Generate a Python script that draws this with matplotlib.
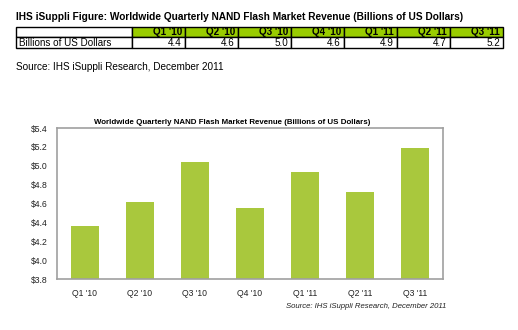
import matplotlib.pyplot as plt
import numpy as np

plt.rcParams['font.family'] = ['Liberation Sans', 'DejaVu Sans']

quarters = ["Q1 '10", "Q2 '10", "Q3 '10", "Q4 '10", "Q1 '11", "Q2 '11", "Q3 '11"]
table_values = [4.4, 4.6, 5.0, 4.6, 4.9, 4.7, 5.2]
bar_values = [4.36, 4.62, 5.04, 4.55, 4.93, 4.72, 5.19]
yticks = [3.8, 4.0, 4.2, 4.4, 4.6, 4.8, 5.0, 5.2, 5.4]

W, H = 518, 330
fig = plt.figure(figsize=(W / 100, H / 100), dpi=100, facecolor='white')

# page-level axes in pixel coordinates for the table and captions
page = fig.add_axes([0, 0, 1, 1])
page.set_xlim(0, W)
page.set_ylim(H, 0)
page.axis('off')

page.text(16, 17, "IHS iSuppli Figure: Worldwide Quarterly NAND Flash Market Revenue (Billions of US Dollars)",
          fontsize=7.3, fontweight='bold', va='center', ha='left')

# table
col_w = [116] + [53] * len(quarters)
row_h = [10.5, 11]
tx0, ty0 = 16, 26.5
cells = [[""] + quarters, ["Billions of US Dollars"] + [f"{v:.1f}" for v in table_values]]
y = ty0
for r, row in enumerate(cells):
    x = tx0
    for c, txt in enumerate(row):
        fc = '#99cc00' if (r == 0 and c > 0) else 'white'
        page.add_patch(plt.Rectangle((x, y), col_w[c], row_h[r],
                                     facecolor=fc, edgecolor='black', lw=1.0))
        if c == 0:
            page.text(x + 3, y + row_h[r] / 2 + 0.7, txt, fontsize=7.1, va='center', ha='left')
        else:
            page.text(x + col_w[c] - 3, y + row_h[r] / 2 + 0.7, txt, fontsize=7.1,
                      va='center', ha='right', fontweight='bold' if r == 0 else 'normal')
        x += col_w[c]
    y += row_h[r]

page.text(16, 67, "Source: IHS iSuppli Research, December 2011", fontsize=7.2, va='center', ha='left')

# chart
left, right, top, bottom = 57, 443, 128, 279
ax = fig.add_axes([left / W, 1 - bottom / H, (right - left) / W, (bottom - top) / H])
x = np.arange(len(quarters))
ax.bar(x, np.array(bar_values) - 3.8, bottom=3.8, width=0.51, color='#a9c83d', zorder=2)
ax.set_xlim(-0.5, len(quarters) - 0.5)
ax.set_ylim(3.8, 5.4)
ax.set_yticks(yticks)
ax.set_yticklabels([f"${v:.1f}" for v in yticks], fontsize=6.2, color='#222222')
ax.set_xticks(x)
ax.set_xticklabels(quarters, fontsize=6.2, color='#222222')
ax.tick_params(length=0, pad=7)
ax.tick_params(axis='x', pad=7)
for s in ax.spines.values():
    s.set_color('#a0a0a0')
    s.set_linewidth(1.2)

page.text(232.5, 122, "Worldwide Quarterly NAND Flash Market Revenue (Billions of US Dollars)",
          fontsize=5.7, fontweight='bold', va='center', ha='center')
page.text(446, 307, "Source: IHS iSuppli Research, December 2011", fontsize=5.6, style='italic',
          va='center', ha='right', color='#222222')

fig.savefig('out.png', dpi=100, facecolor='white')
